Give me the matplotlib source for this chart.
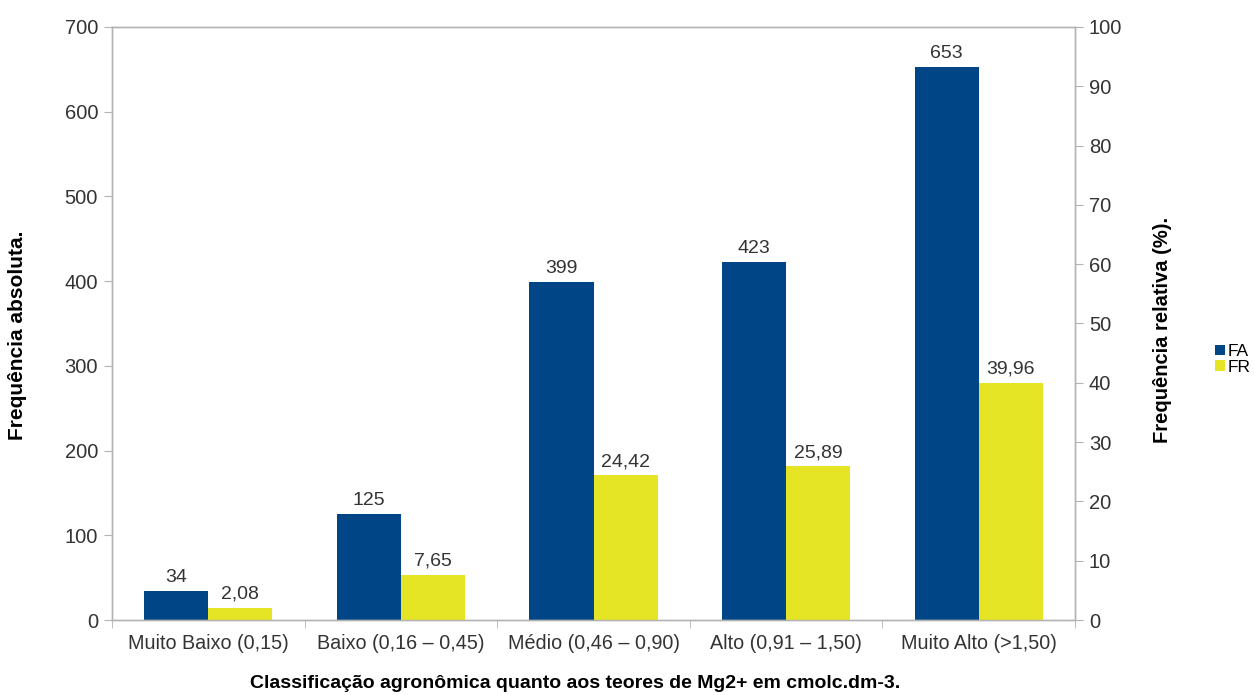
import numpy as np
import matplotlib.pyplot as plt

plt.rcParams['font.family'] = ['Liberation Sans', 'DejaVu Sans']

categorias = ['Muito Baixo (0,15)', 'Baixo (0,16 – 0,45)', 'Médio (0,46 – 0,90)',
              'Alto (0,91 – 1,50)', 'Muito Alto (>1,50)']
fa = [34, 125, 399, 423, 653]
fr = [2.08, 7.65, 24.42, 25.89, 39.96]
fr_rotulos = ['2,08', '7,65', '24,42', '25,89', '39,96']

cor_fa = '#004586'
cor_fr = '#e5e526'
cinza = '#b3b3b3'
texto = '#333333'

W, H = 1254, 695
fig = plt.figure(figsize=(W / 100, H / 100), dpi=100)
ax = fig.add_axes([0.0893, 0.1079, 0.7680, 0.8533])
ax2 = ax.twinx()

x = np.arange(len(categorias))
w = 1 / 3

b1 = ax.bar(x - w / 2, fa, w, color=cor_fa, label='FA')
b2 = ax2.bar(x + w / 2, fr, w, color=cor_fr, label='FR')

ax.set_xlim(-0.5, len(categorias) - 0.5)
ax.set_ylim(0, 700)
ax2.set_ylim(0, 100)
ax.set_yticks(np.arange(0, 701, 100))
ax2.set_yticks(np.arange(0, 101, 10))

ax.set_xticks(x)
ax.set_xticklabels(categorias, fontsize=14.2, color=texto)
ax.set_xticks(np.arange(-0.5, len(categorias), 1), minor=True)
ax.tick_params(axis='x', which='major', length=0, pad=10)
ax.tick_params(axis='x', which='minor', length=6, color=cinza)
ax.tick_params(axis='y', length=6, color=cinza, labelsize=14.5, labelcolor=texto, pad=4)
ax2.tick_params(axis='y', length=6, color=cinza, labelsize=14.5, labelcolor=texto, pad=4)

for a in (ax, ax2):
    for s in a.spines.values():
        s.set_color(cinza)
        s.set_linewidth(1)

for rect, v in zip(b1, fa):
    ax.text(rect.get_x() + rect.get_width() / 2, v + 6, str(v),
            ha='center', va='bottom', fontsize=14, color=texto)
for rect, v, t in zip(b2, fr, fr_rotulos):
    ax2.text(rect.get_x() + rect.get_width() / 2, v + 0.85, t,
             ha='center', va='bottom', fontsize=14, color=texto)

# axis titles placed in figure pixels, as in the reference
fig.text(575 / W, 1 - 684 / H,
         'Classificação agronômica quanto aos teores de Mg2+ em cmolc.dm-3.',
         fontsize=14, fontweight='bold', ha='center', va='center')
fig.text(18 / W, 1 - 335 / H, 'Frequência absoluta.', rotation=90,
         fontsize=15, fontweight='bold', ha='center', va='center')
fig.text(1162 / W, 1 - 330 / H, 'Frequência relativa (%).', rotation=90,
         fontsize=14.5, fontweight='bold', ha='center', va='center')

fig.legend(handles=[b1, b2], labels=['FA', 'FR'], loc='center left',
           bbox_to_anchor=(0.962, 0.483), frameon=False, fontsize=12.5,
           handlelength=0.55, handleheight=0.55, handletextpad=0.15,
           labelspacing=0.05, borderpad=0)

fig.savefig('out.png', dpi=100)
